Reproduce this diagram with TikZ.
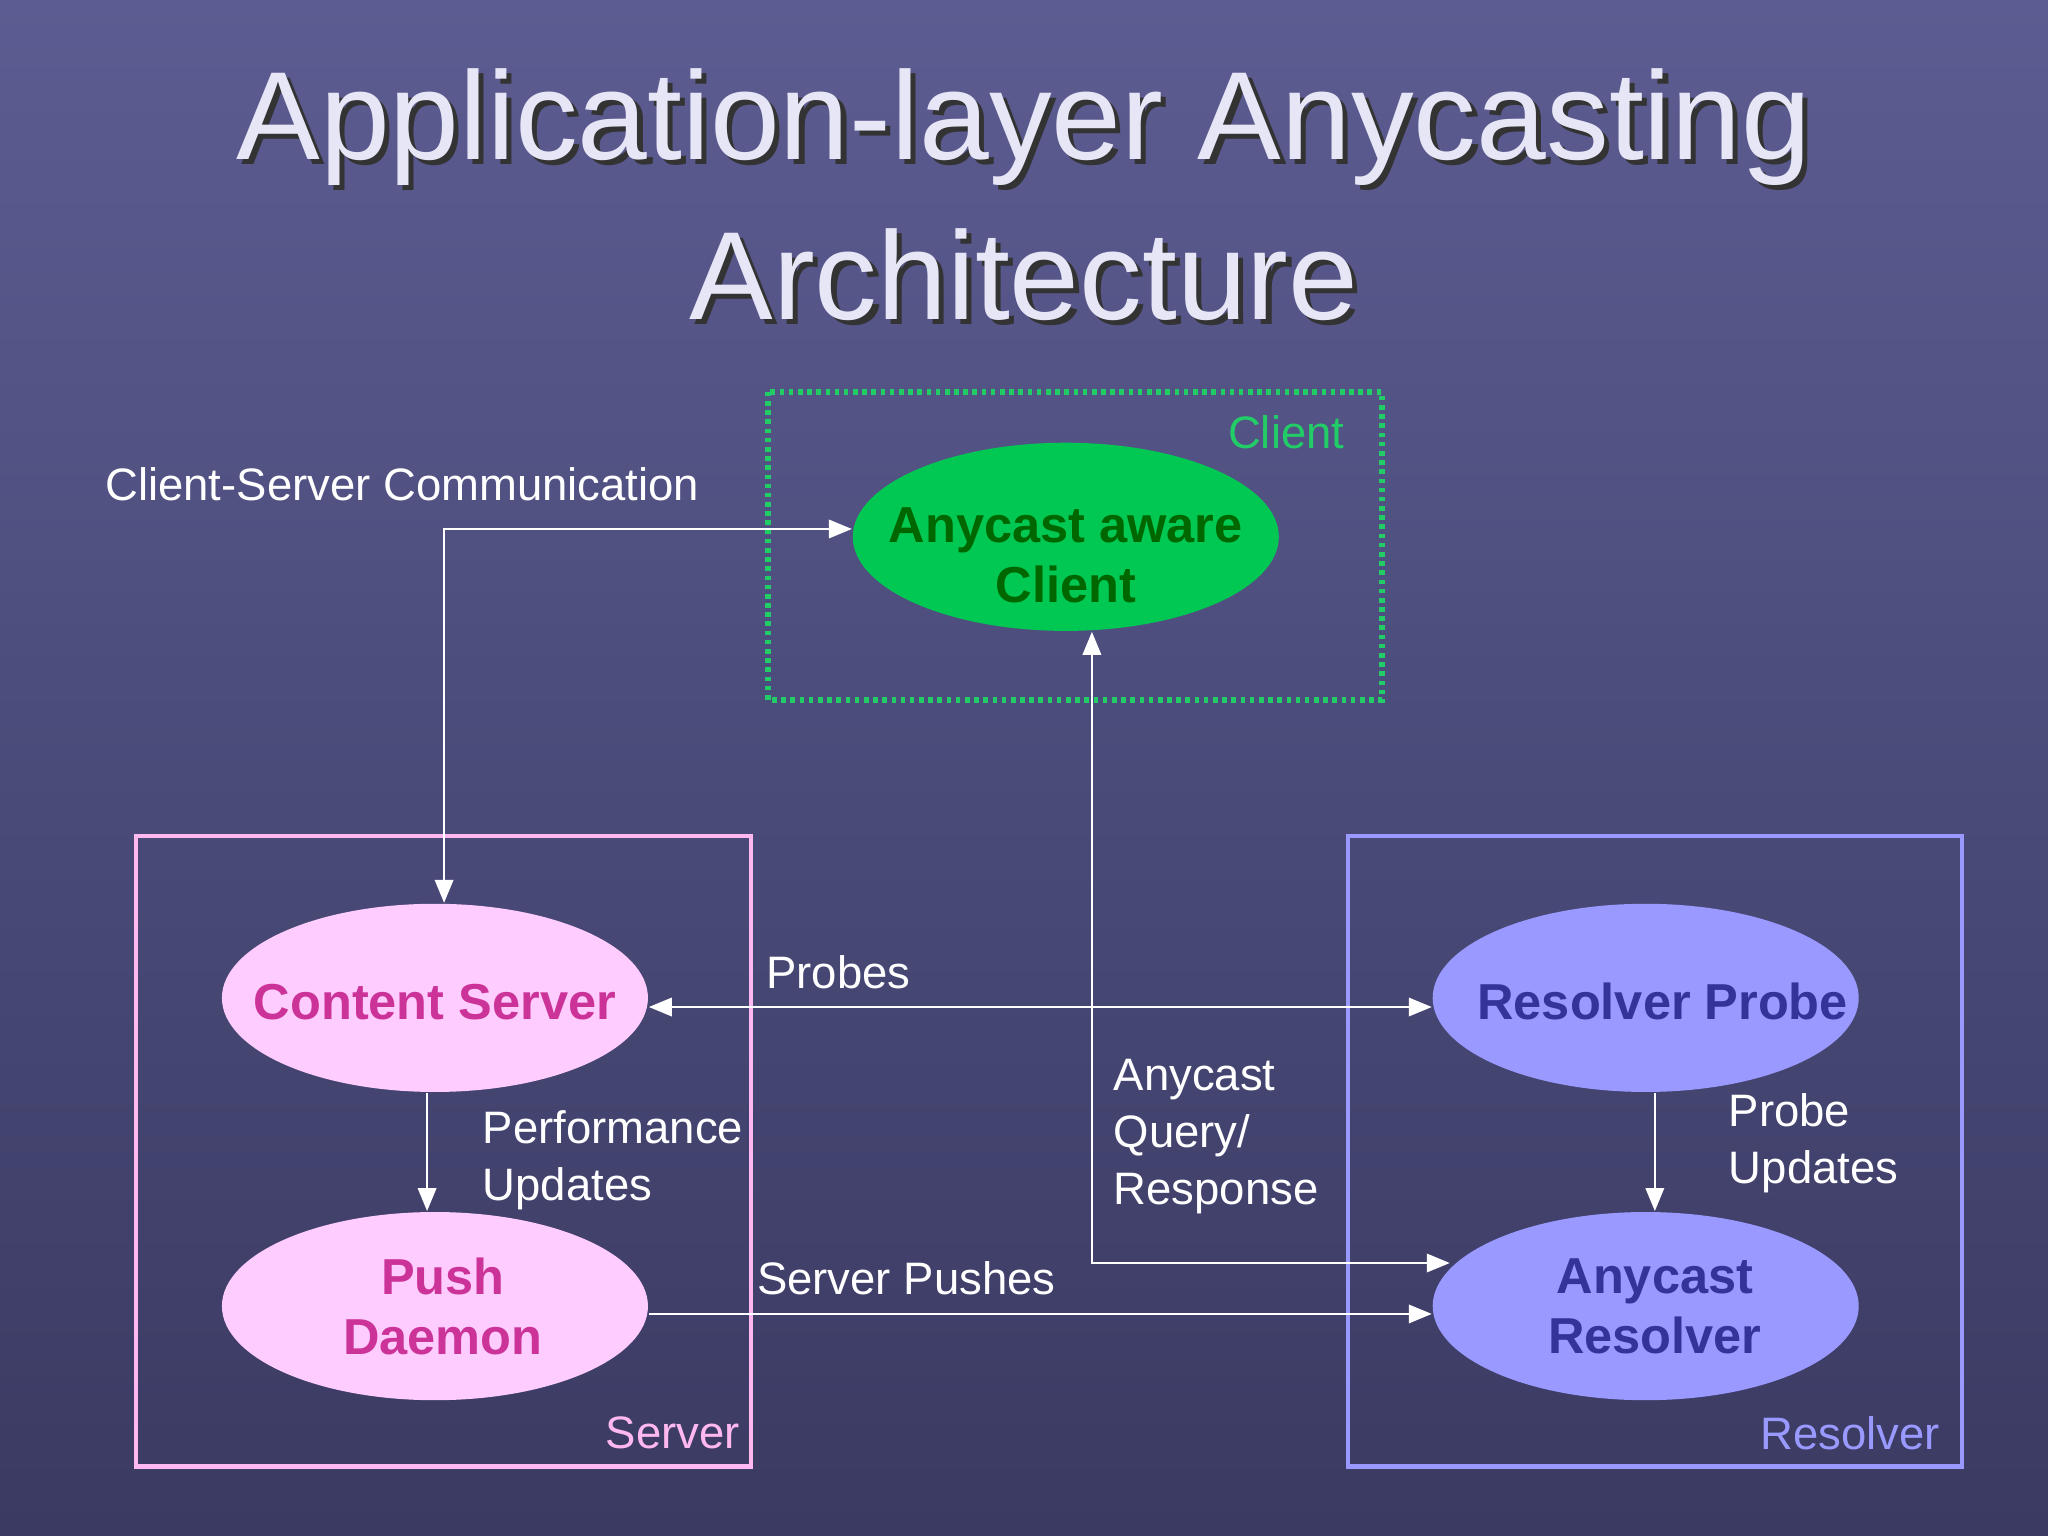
\documentclass[tikz,border=0pt]{standalone}
\usepackage{fontspec}
\setmainfont{Liberation Sans}
\usetikzlibrary{shapes.geometric,arrows.meta}
\definecolor{bgA}{HTML}{5C5C92}
\definecolor{bgB}{HTML}{3A3A62}
\definecolor{ttl}{HTML}{E6E6F6}
\definecolor{cgreen}{HTML}{00C853}
\definecolor{cdgreen}{HTML}{006600}
\definecolor{clab}{HTML}{22CC66}
\definecolor{pinkf}{HTML}{FFCCFF}
\definecolor{pinkt}{HTML}{CC3399}
\definecolor{pinkb}{HTML}{FFB8F0}
\definecolor{bluef}{HTML}{9999FF}
\definecolor{bluet}{HTML}{333399}
\begin{document}
\begin{tikzpicture}[x=0.01cm,y=-0.01cm,
  ell/.style={ellipse,minimum width=3.26cm,minimum height=1.44cm,inner sep=0pt},
  etx/.style={inner sep=0pt,align=center,font=\fontsize{11}{13}\selectfont\bfseries},
  lab/.style={text=white,font=\fontsize{9.9}{12.4}\selectfont,align=left,inner sep=0pt},
  con/.style={white,line width=0.5pt},
  arr/.style={-{Triangle[length=5pt,width=4pt]}},
  arrb/.style={{Triangle[length=5pt,width=4pt]}-{Triangle[length=5pt,width=4pt]}},
  box/.style={line width=1pt},
  blab/.style={font=\fontsize{9.9}{12}\selectfont,anchor=east,inner sep=0pt}]
\useasboundingbox (0,0) rectangle (1568,1176);
\shade[top color=bgA,bottom color=bgB] (0,0) rectangle (1568,1176);
% title
\foreach \dx/\c in {4/black!80,0/ttl}{
\node[text=\c,font=\fontsize{27.3}{32}\selectfont] (t1\dx) at (784+\dx,97+\dx) {Application-layer Anycasting};
\node[text=\c,font=\fontsize{27.3}{32}\selectfont] (t2\dx) at (784+\dx,210+\dx) {Architecture};}
% boxes
\draw[box,clab,densely dotted,line width=1.2pt] (588,300) rectangle (1058,536);
\node[text=clab,blab] (lc) at (1030,331) {Client};
\draw[box,pinkb] (104,640) rectangle (575,1123);
\node[text=pinkb,blab] (ls) at (567,1097) {Server};
\draw[box,bluef] (1032,640) rectangle (1502,1123);
\node[text=bluef,blab] (lr) at (1486,1097) {Resolver};
% ellipses
\node[ell,fill=cgreen] (cl) at (816,411) {};
\node[ell,fill=pinkf] (cs) at (333,764) {};
\node[ell,fill=pinkf] (pd) at (333,1000) {};
\node[ell,fill=bluef] (rp) at (1260,764) {};
\node[ell,fill=bluef] (ar) at (1260,1000) {};
\node[etx,text=cdgreen] (clt) at (816,425) {Anycast aware\\Client};
\node[etx,text=pinkt] (cst) at (333,767) {Content Server};
\node[etx,text=pinkt] (pdt) at (339,1000) {Push\\Daemon};
\node[etx,text=bluet] (rpt) at (1273,767) {Resolver Probe};
\node[etx,text=bluet] (art) at (1267,1000) {Anycast\\Resolver};
% connectors
\draw[con,arrb] (cs.north -| 340,0) |- (cl.west |- 0,405);
\draw[con,arrb] (cs.east |- 0,771) -- (rp.west |- 0,771);
\draw[con,arr] (cs.south -| 327,0) -- (pd.north -| 327,0);
\coordinate (aq) at (1110,967);
\draw[con,arrb] (cl.south -| 836,0) |- (aq);
\draw[con,arr] (pd.east |- 0,1006) -- (ar.west |- 0,1006);
\draw[con,arr] (rp.south -| 1267,0) -- (ar.north -| 1267,0);
% labels
\node[lab,anchor=west] (l1) at (80,371) {Client-Server Communication};
\node[lab,anchor=west] (l2) at (586,744) {Probes};
\node[lab,anchor=west] (l3) at (369,888) {Performance\\Updates};
\node[lab,anchor=west] (l4) at (852,870) {Anycast\\Query/\\Response};
\node[lab,anchor=west] (l5) at (579,979) {Server Pushes};
\node[lab,anchor=west] (l6) at (1323,875) {Probe\\Updates};
\end{tikzpicture}
\end{document}
